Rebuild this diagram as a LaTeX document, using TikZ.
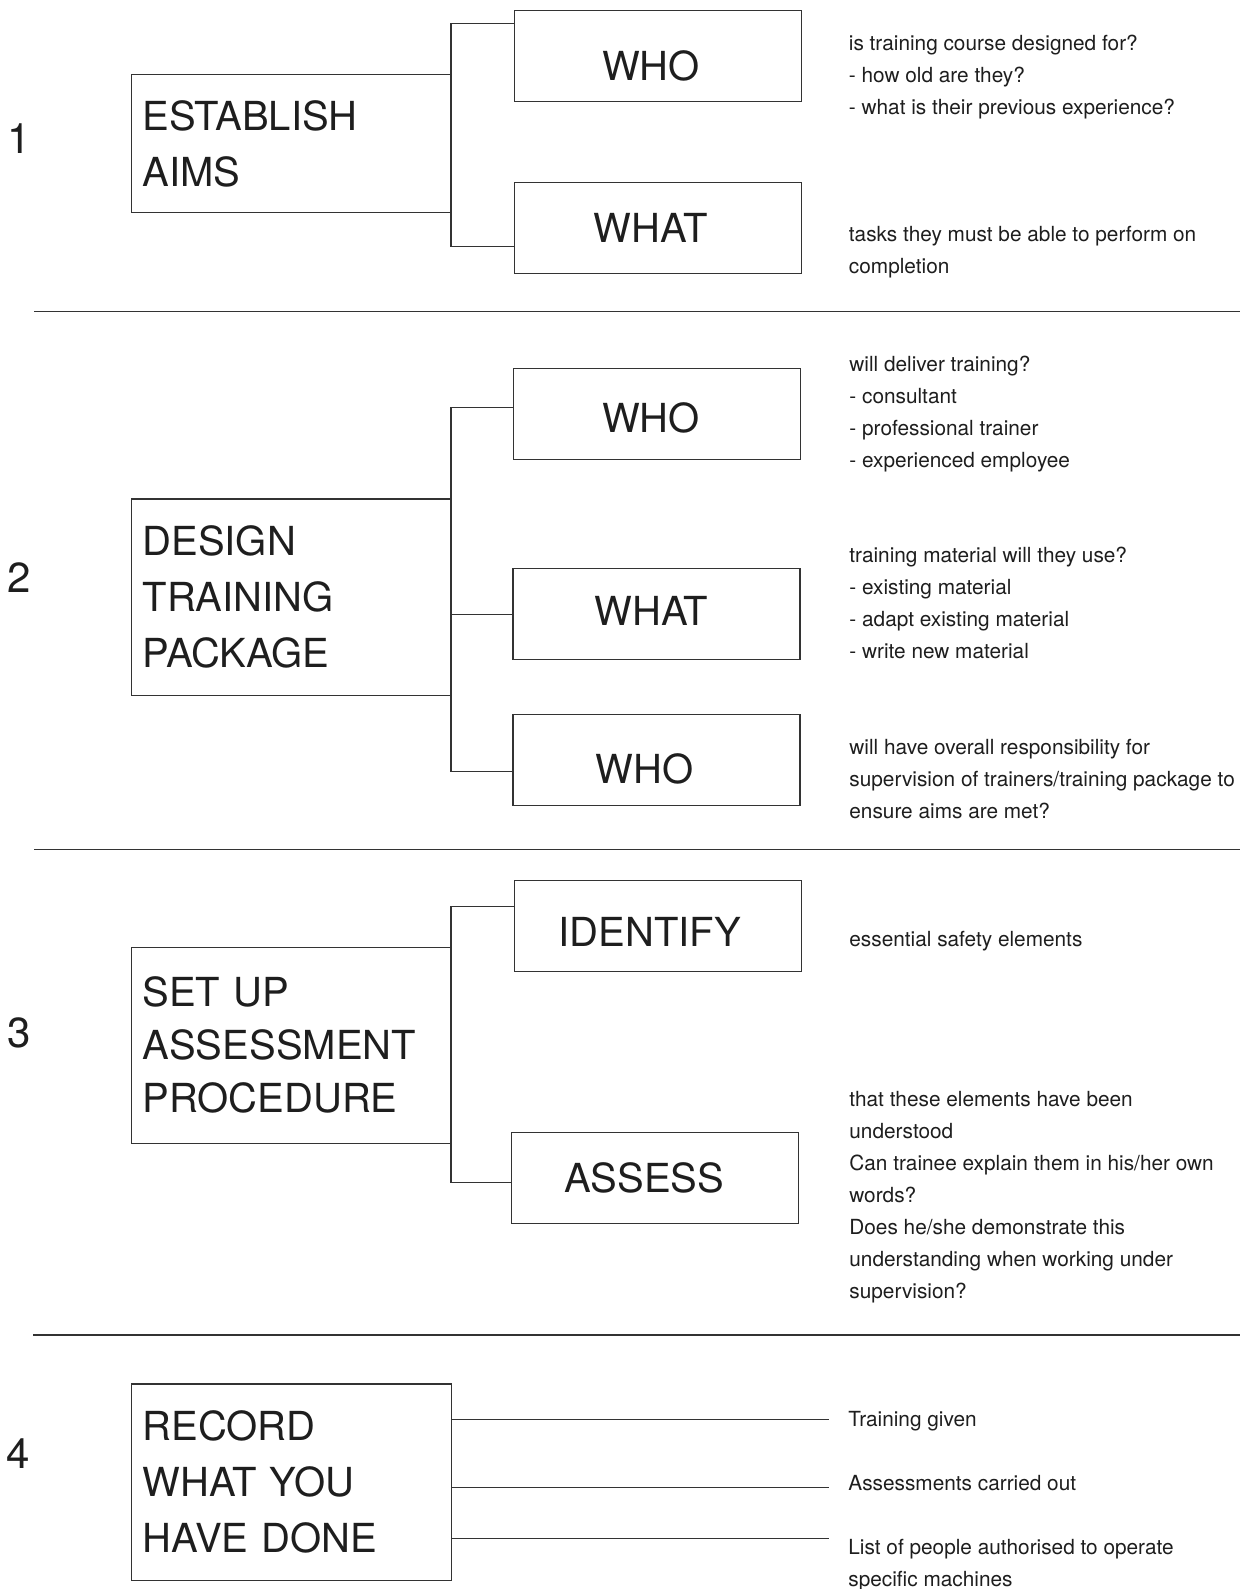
\documentclass[tikz,border=0pt]{standalone}
\usepackage{fontspec}
\setmainfont{TeX Gyre Heros}
\usepackage{xcolor}
\usepackage{tikz}
\usetikzlibrary{positioning}
\definecolor{cLinha}{HTML}{333333}
\definecolor{cTexto}{HTML}{1E1E1E}

\begin{document}
\begin{tikzpicture}[
  x=0.5pt,y=-0.5pt,
  stagebox/.style={draw=cLinha,line width=0.6pt,anchor=north west,align=left,
              text width=149pt,inner xsep=5.5pt,inner ysep=0pt,text=cTexto,
              font=\fontsize{20}{28}\selectfont},
  subbox/.style={draw=cLinha,line width=0.6pt,anchor=north west,inner sep=0pt,
              minimum width=143.5pt,minimum height=45.5pt,text=cTexto,
              font=\fontsize{20}{24}\selectfont},
  lower/.style={text height=#1},
  shiftl/.style={execute at end node={\hspace*{#1}}},
  desc/.style={anchor=north west,align=left,inner sep=0pt,text=cTexto,
              font=\fontsize{10.4}{16}\selectfont},
  num/.style={inner sep=0pt,text=cTexto,font=\fontsize{21}{24}\selectfont},
  ln/.style={draw=cLinha,line width=0.6pt},
  sep/.style={draw=cLinha,line width=0.7pt}
]
\path[use as bounding box,fill=white] (0,0) rectangle (1240,1589);

% ---- numeros
\node[num] (n1) at (19,138.3)  {1};
\node[num] (n2) at (19,578)    {2};
\node[num] (n3) at (19,1033)   {3};
\node[num] (n4) at (18,1453.3) {4};

% ---- etapa 1
\node[stagebox,minimum height=69pt] (est) at (131,74) {ESTABLISH\\AIMS};
\node[subbox,lower=24.4pt,shiftl=7pt] (who1)  at (514,10)    {WHO};
\node[subbox,shiftl=7pt] (what1) at (513.5,181.7) {WHAT};
\coordinate (b1t) at (451,23.3);
\coordinate (b1b) at (451,246.7);
\draw[ln] (who1.west |- b1t) -- (b1t) -- (b1b) -- (what1.west |- b1b);
\node[desc] (t1a) at (848.5,34.2)  {is training course designed for?\\- how old are they?\\- what is their previous experience?};
\node[desc] (t1b) at (848.5,226) {tasks they must be able to perform on\\completion};
\draw[sep] (34,311.7) -- (1240,311.7);

% ---- etapa 2
\node[stagebox,minimum height=98.2pt] (des) at (131,498.4) {DESIGN\\TRAINING\\PACKAGE};
\node[subbox,lower=18.7pt,shiftl=6pt] (who2)  at (513,368.2)   {WHO};
\node[subbox,text depth=3pt,shiftl=5pt] (what2) at (512.3,568)   {WHAT};
\node[subbox,lower=24.4pt,shiftl=12pt] (who3)  at (512.3,713.6) {WHO};
\coordinate (b2t) at (451,407.1);
\coordinate (b2b) at (451,771.1);
\draw[ln] (who2.west |- b2t) -- (b2t) -- (b2b) -- (who3.west |- b2b);
\draw[ln] (des.east |- what2.west) -- (what2.west);
\node[desc] (t2a) at (849,355.5) {will deliver training?\\- consultant\\- professional trainer\\- experienced employee};
\node[desc] (t2b) at (849,546.5) {training material will they use?\\- existing material\\- adapt existing material\\- write new material};
\node[desc] (t2c) at (849,738.5) {will have overall responsibility for\\supervision of trainers/training package to\\ensure aims are met?};
\draw[sep] (34,849.5) -- (1240,849.5);

% ---- etapa 3
\node[stagebox,minimum height=98pt,font=\fontsize{20}{26.5}\selectfont] (set) at (131,946.7) {SET UP\\ASSESSMENT\\PROCEDURE};
\node[subbox,lower=19.9pt,shiftl=8pt] (ident)  at (513.5,880)  {IDENTIFY};
\node[subbox,shiftl=11pt] (assess) at (511,1131.7) {ASSESS};
\coordinate (b3t) at (451,906.7);
\coordinate (b3b) at (451,1182.7);
\draw[ln] (ident.west |- b3t) -- (b3t) -- (b3b) -- (assess.west |- b3b);
\node[desc] (t3a) at (849,931)  {essential safety elements};
\node[desc] (t3b) at (849,1091) {that these elements have been\\understood\\Can trainee explain them in his/her own\\words?\\Does he/she demonstrate this\\understanding when working under\\supervision?};
\draw[sep] (33,1335) -- (1240,1335);

% ---- etapa 4
\node[stagebox,minimum height=98.3pt] (rec) at (131,1383.3) {RECORD\\WHAT YOU\\HAVE DONE};
\coordinate (r1) at (829,1419.3);
\coordinate (r2) at (829,1487.3);
\coordinate (r3) at (829,1538.7);
\foreach \c in {r1,r2,r3}
  \draw[ln] (\c -| rec.east) -- (\c);
\node[desc] (t4a) at (848,1411)   {Training given};
\node[desc] (t4b) at (848,1475)   {Assessments carried out};
\node[desc] (t4c) at (848,1539) {List of people authorised to operate\\specific machines};
\end{tikzpicture}
\end{document}
